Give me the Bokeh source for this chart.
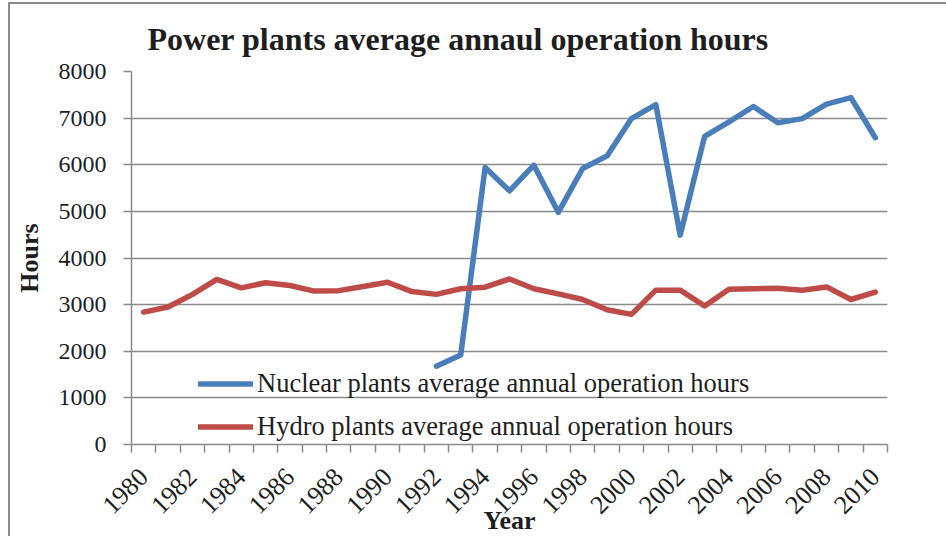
import math
from bokeh.plotting import figure
from bokeh.models import FixedTicker, Legend, LegendItem
from bokeh.embed import file_html
from bokeh.resources import INLINE

# ---- data ----
years = [1980, 1981, 1982, 1983, 1984, 1985, 1986, 1987, 1988, 1989,
         1990, 1991, 1992, 1993, 1994, 1995, 1996, 1997, 1998, 1999,
         2000, 2001, 2002, 2003, 2004, 2005, 2006, 2007, 2008, 2009, 2010]
hydro = [2840, 2950, 3220, 3540, 3360, 3470, 3410, 3290, 3300, 3390,
         3480, 3280, 3220, 3340, 3375, 3550, 3340, 3230, 3110, 2890,
         2790, 3310, 3310, 2970, 3330, 3340, 3350, 3310, 3380, 3110, 3270]
nuclear_years = [1992, 1993, 1994, 1995, 1996, 1997, 1998, 1999, 2000, 2001,
                 2002, 2003, 2004, 2005, 2006, 2007, 2008, 2009, 2010]
nuclear = [1680, 1920, 5940, 5440, 5990, 4980, 5920, 6190, 6990, 7290,
           4490, 6610, 6920, 7250, 6900, 6990, 7300, 7440, 6580]
x_tick_labels = [1980, 1982, 1984, 1986, 1988, 1990, 1992, 1994, 1996, 1998,
                 2000, 2002, 2004, 2006, 2008, 2010]
y_ticks = [0, 1000, 2000, 3000, 4000, 5000, 6000, 7000, 8000]

title_text = "Power plants average annaul operation hours"
nuclear_label = "Nuclear plants average annual operation hours"
hydro_label = "Hydro plants average annual operation hours"

SERIF = "Liberation Serif"
GRAY = "#8a8a8a"
TEXT = "#1e1e1e"

p = figure(width=938, height=534, output_backend="svg", toolbar_location=None,
           x_range=(1979.5, 2010.5), y_range=(0, 8000),
           min_border_left=121, min_border_right=61,
           min_border_top=66, min_border_bottom=92,
           title=title_text)
p.styles = {"border-left": "2px solid #8c8c8c", "border-top": "2px solid #8c8c8c",
            "margin-left": "8px", "margin-top": "2px"}
p.outline_line_color = None

p.title.text_font = SERIF
p.title.text_font_style = "bold"
p.title.text_font_size = "32px"
p.title.text_color = TEXT
p.title.align = "left"
p.title.offset = 16
p.title.standoff = 29

# lines
r_nuc = p.line(nuclear_years, nuclear, line_color="#4A7EBB", line_width=5.5,
               line_join="round", line_cap="round")
r_hyd = p.line(years, hydro, line_color="#BE4B48", line_width=5.5,
               line_join="round", line_cap="round")

# x axis: labels at even years, tick marks between categories
boundaries = [y - 0.5 for y in years] + [years[-1] + 0.5]
p.xaxis.ticker = FixedTicker(ticks=x_tick_labels, minor_ticks=boundaries)
p.xaxis.major_label_overrides = {y: str(y) for y in x_tick_labels}
p.xaxis.major_tick_line_color = None
p.xaxis.minor_tick_in = 0
p.xaxis.minor_tick_out = 8
p.xaxis.minor_tick_line_color = GRAY
p.xaxis.minor_tick_line_width = 1.5
p.xaxis.axis_line_color = GRAY
p.xaxis.axis_line_width = 1.5
p.xaxis.major_label_orientation = math.pi / 4
p.xaxis.major_label_standoff = 20
p.xaxis.major_label_text_font = SERIF
p.xaxis.major_label_text_font_size = "26px"
p.xaxis.major_label_text_color = TEXT
p.xaxis.axis_label = "Year"
p.xaxis.axis_label_text_font = SERIF
p.xaxis.axis_label_text_font_style = "bold"
p.xaxis.axis_label_text_font_size = "26px"
p.xaxis.axis_label_text_color = TEXT
p.xaxis.axis_label_standoff = -18
p.xgrid.grid_line_color = None

# y axis
p.yaxis.ticker = FixedTicker(ticks=y_ticks)
p.yaxis.minor_tick_line_color = None
p.yaxis.major_tick_in = 0
p.yaxis.major_tick_out = 8
p.yaxis.major_tick_line_color = GRAY
p.yaxis.major_tick_line_width = 1.5
p.yaxis.axis_line_color = GRAY
p.yaxis.axis_line_width = 1.5
p.yaxis.major_label_standoff = 17
p.yaxis.major_label_text_font = SERIF
p.yaxis.major_label_text_font_size = "24px"
p.yaxis.major_label_text_color = TEXT
p.yaxis.axis_label = "Hours"
p.yaxis.axis_label_text_font = SERIF
p.yaxis.axis_label_text_font_style = "bold"
p.yaxis.axis_label_text_font_size = "26px"
p.yaxis.axis_label_text_color = TEXT
p.yaxis.axis_label_standoff = 12
p.ygrid.grid_line_color = GRAY
p.ygrid.grid_line_width = 1.5

legend = Legend(items=[LegendItem(label=nuclear_label, renderers=[r_nuc]),
                       LegendItem(label=hydro_label, renderers=[r_hyd])],
                location=(67, -4), orientation="vertical",
                label_text_font=SERIF, label_text_font_size="26.5px",
                label_text_color=TEXT,
                glyph_width=55, glyph_height=43, label_height=43,
                spacing=0, padding=0, margin=0, label_standoff=4,
                background_fill_alpha=0, border_line_alpha=0)
p.add_layout(legend, "center")

open("out.html", "w").write(file_html(p, INLINE))
